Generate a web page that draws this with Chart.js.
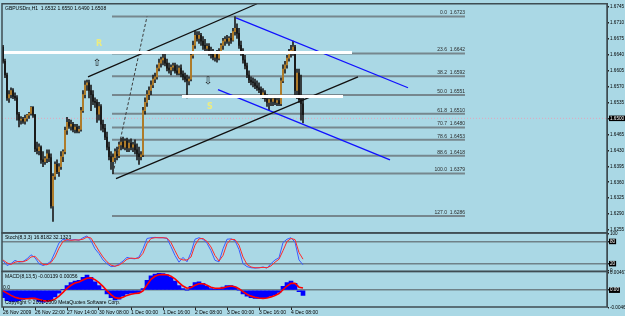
<!DOCTYPE html>
<html>
<head>
<meta charset="utf-8">
<script src="https://cdn.jsdelivr.net/npm/chart.js@4.4.0/dist/chart.umd.min.js"></script>
<style>
  html, body { margin: 0; padding: 0; background: #aad8e5; overflow: hidden; }
  canvas { display: block; background: #aad8e5; }
</style>
</head>
<body>
<canvas id="chart" width="625" height="316"></canvas>
<script>
// GBPUSDm H1, one bar per hour from 26 Nov 2009 06:00
const open = [1.6656,1.6625,1.6595,1.6545,1.6552,1.6561,1.6548,1.6545,1.6509,1.6496,
  1.6498,1.6494,1.6500,1.6507,1.6511,1.6524,1.6507,1.6433,1.6429,1.6437,
  1.6409,1.6405,1.6412,1.6422,1.6414,1.6308,1.6373,1.6399,1.6383,1.6394,
  1.6416,1.6427,1.6474,1.6491,1.6483,1.6487,1.6476,1.6481,1.6472,1.6476,
  1.6517,1.6552,1.6573,1.6578,1.6561,1.6552,1.6537,1.6535,1.6509,1.6526,
  1.6487,1.6478,1.6459,1.6437,1.6416,1.6405,1.6414,1.6427,1.6418,1.6442,
  1.6448,1.6437,1.6450,1.6435,1.6446,1.6437,1.6442,1.6431,1.6422,1.6416,
  1.6420,1.6517,1.6535,1.6552,1.6561,1.6573,1.6586,1.6591,1.6610,1.6621,
  1.6628,1.6632,1.6621,1.6610,1.6606,1.6612,1.6615,1.6604,1.6599,1.6610,
  1.6597,1.6591,1.6586,1.6582,1.6586,1.6638,1.6660,1.6682,1.6675,1.6682,
  1.6669,1.6660,1.6653,1.6658,1.6647,1.6640,1.6634,1.6643,1.6632,1.6647,
  1.6660,1.6669,1.6673,1.6669,1.6675,1.6671,1.6690,1.6697,1.6686,1.6660,
  1.6643,1.6628,1.6615,1.6595,1.6584,1.6580,1.6578,1.6571,1.6567,1.6563,
  1.6552,1.6556,1.6543,1.6535,1.6541,1.6537,1.6543,1.6535,1.6539,1.6532,
  1.6582,1.6608,1.6617,1.6632,1.6643,1.6649,1.6656,1.6561,1.6599,1.6541,
  1.6532];
const high = [1.6660,1.6630,1.6599,1.6561,1.6567,1.6565,1.6556,1.6550,1.6513,1.6504,
  1.6502,1.6507,1.6509,1.6513,1.6526,1.6526,1.6509,1.6448,1.6444,1.6440,
  1.6427,1.6416,1.6431,1.6431,1.6422,1.6379,1.6405,1.6409,1.6401,1.6427,
  1.6431,1.6481,1.6502,1.6498,1.6496,1.6491,1.6487,1.6487,1.6483,1.6524,
  1.6561,1.6582,1.6584,1.6584,1.6573,1.6561,1.6545,1.6541,1.6535,1.6530,
  1.6496,1.6487,1.6470,1.6448,1.6427,1.6422,1.6433,1.6437,1.6448,1.6457,
  1.6459,1.6455,1.6457,1.6453,1.6455,1.6448,1.6453,1.6444,1.6437,1.6427,
  1.6524,1.6545,1.6561,1.6569,1.6582,1.6595,1.6599,1.6617,1.6630,1.6634,
  1.6643,1.6643,1.6630,1.6621,1.6617,1.6621,1.6621,1.6617,1.6615,1.6617,
  1.6604,1.6599,1.6595,1.6591,1.6643,1.6669,1.6692,1.6690,1.6690,1.6686,
  1.6679,1.6673,1.6664,1.6664,1.6656,1.6651,1.6647,1.6649,1.6653,1.6664,
  1.6675,1.6679,1.6682,1.6679,1.6686,1.6697,1.6723,1.6707,1.6697,1.6669,
  1.6653,1.6638,1.6621,1.6604,1.6591,1.6589,1.6586,1.6582,1.6578,1.6569,
  1.6565,1.6561,1.6552,1.6548,1.6550,1.6548,1.6550,1.6545,1.6548,1.6589,
  1.6617,1.6625,1.6638,1.6651,1.6660,1.6669,1.6660,1.6608,1.6608,1.6595,
  1.6550];
const low = [1.6621,1.6589,1.6539,1.6535,1.6545,1.6543,1.6539,1.6496,1.6481,1.6487,
  1.6489,1.6487,1.6494,1.6500,1.6507,1.6502,1.6427,1.6422,1.6420,1.6401,
  1.6394,1.6399,1.6403,1.6405,1.6303,1.6274,1.6366,1.6379,1.6373,1.6388,
  1.6405,1.6422,1.6465,1.6478,1.6474,1.6470,1.6468,1.6468,1.6468,1.6472,
  1.6513,1.6545,1.6561,1.6545,1.6517,1.6530,1.6524,1.6491,1.6496,1.6474,
  1.6470,1.6453,1.6431,1.6409,1.6388,1.6379,1.6405,1.6409,1.6414,1.6431,
  1.6433,1.6431,1.6427,1.6427,1.6431,1.6427,1.6422,1.6409,1.6399,1.6409,
  1.6416,1.6509,1.6526,1.6541,1.6552,1.6567,1.6578,1.6586,1.6604,1.6612,
  1.6617,1.6615,1.6604,1.6599,1.6595,1.6604,1.6599,1.6595,1.6595,1.6591,
  1.6584,1.6580,1.6545,1.6573,1.6582,1.6632,1.6653,1.6669,1.6664,1.6660,
  1.6651,1.6647,1.6643,1.6638,1.6632,1.6628,1.6625,1.6623,1.6628,1.6643,
  1.6651,1.6660,1.6664,1.6660,1.6664,1.6669,1.6682,1.6675,1.6653,1.6638,
  1.6621,1.6608,1.6589,1.6578,1.6573,1.6569,1.6565,1.6561,1.6556,1.6545,
  1.6543,1.6537,1.6526,1.6519,1.6528,1.6528,1.6530,1.6528,1.6528,1.6528,
  1.6578,1.6599,1.6610,1.6625,1.6634,1.6638,1.6552,1.6543,1.6535,1.6496,
  1.6490];
const close = [1.6625,1.6595,1.6545,1.6552,1.6561,1.6548,1.6545,1.6509,1.6496,1.6498,
  1.6494,1.6500,1.6507,1.6511,1.6524,1.6507,1.6433,1.6429,1.6437,1.6409,
  1.6405,1.6412,1.6422,1.6414,1.6308,1.6373,1.6399,1.6383,1.6394,1.6416,
  1.6427,1.6474,1.6491,1.6483,1.6487,1.6476,1.6481,1.6472,1.6476,1.6517,
  1.6552,1.6573,1.6578,1.6561,1.6552,1.6537,1.6535,1.6509,1.6526,1.6487,
  1.6478,1.6459,1.6437,1.6416,1.6405,1.6414,1.6427,1.6418,1.6442,1.6448,
  1.6437,1.6450,1.6435,1.6446,1.6437,1.6442,1.6431,1.6422,1.6416,1.6420,
  1.6517,1.6535,1.6552,1.6561,1.6573,1.6586,1.6591,1.6610,1.6621,1.6628,
  1.6632,1.6621,1.6610,1.6606,1.6612,1.6615,1.6604,1.6599,1.6610,1.6597,
  1.6591,1.6586,1.6582,1.6586,1.6638,1.6660,1.6682,1.6675,1.6682,1.6669,
  1.6660,1.6653,1.6658,1.6647,1.6640,1.6634,1.6643,1.6632,1.6647,1.6660,
  1.6669,1.6673,1.6669,1.6675,1.6671,1.6690,1.6697,1.6686,1.6660,1.6643,
  1.6628,1.6615,1.6595,1.6584,1.6580,1.6578,1.6571,1.6567,1.6563,1.6552,
  1.6556,1.6543,1.6535,1.6541,1.6537,1.6543,1.6535,1.6539,1.6532,1.6582,
  1.6608,1.6617,1.6632,1.6643,1.6649,1.6656,1.6561,1.6599,1.6541,1.6532,
  1.6508];

// indicators read every second bar
const IND_STEP = 2;
const stochMain = [28,15,20,29,24,26,33,44,36,20, 15,19,27,51,76,86,83,84,85,83,
  90,95,82,60,47,30,20,12,13,19, 27,37,34,33,38,60,88,90,91,90,
  90,88,66,42,24,37,25,50,86,90, 86,75,55,29,25,60,86,87,82,58,
  20,12,9,8,9,11,8,20,30,36, 77,86,90,78,30,16.8182];
const stochSignal = [30,22,18,24,26,25,29,38,40,28, 18,17,23,38,62,80,85,83,84,84,
  86,92,89,72,54,38,25,16,13,16, 23,32,35,34,35,48,74,88,90,90,
  90,89,77,55,34,30,30,38,70,87, 88,80,65,42,27,42,74,86,85,70,
  38,18,11,9,9,10,9,14,24,32, 55,80,88,85,50,32.1323];
const macdHist = [-0.0020,-0.0028,-0.0030,-0.0030,-0.0028,-0.0025,-0.0022,-0.0020,-0.0024,-0.0030,
  -0.0032,-0.0030,-0.0026,-0.0018,-0.0008,0.0002,0.0012,0.0020,0.0024,0.0026,
  0.0034,0.0040,0.0034,0.0022,0.0012,0.0002,-0.0010,-0.0020,-0.0026,-0.0024,
  -0.0016,-0.0010,-0.0008,-0.0008,-0.0006,0.0004,0.0026,0.0038,0.0043,0.0045,
  0.0044,0.0041,0.0034,0.0024,0.0012,0.0004,0.0000,0.0010,0.0020,0.0022,
  0.0018,0.0010,0.0004,0.0002,0.0004,0.0008,0.0012,0.0012,0.0008,0.0000,
  -0.0010,-0.0016,-0.0020,-0.0022,-0.0022,-0.0022,-0.0020,-0.0016,-0.0012,-0.0006,
  0.0010,0.0020,0.0024,0.0018,-0.0004,-0.00139];
const macdSignal = [-0.0002,-0.0008,-0.0014,-0.0019,-0.0022,-0.0023,-0.0023,-0.0022,-0.0022,-0.0025,
  -0.0028,-0.0029,-0.0028,-0.0024,-0.0016,-0.0006,0.0005,0.0013,0.0019,0.0022,
  0.0027,0.0032,0.0033,0.0028,0.0020,0.0010,-0.0002,-0.0012,-0.0020,-0.0022,
  -0.0019,-0.0014,-0.0011,-0.0009,-0.0008,-0.0002,0.0014,0.0029,0.0037,0.0041,
  0.0042,0.0041,0.0037,0.0030,0.0020,0.0011,0.0005,0.0007,0.0013,0.0017,
  0.0017,0.0013,0.0008,0.0005,0.0005,0.0006,0.0009,0.0011,0.0009,0.0004,
  -0.0004,-0.0011,-0.0016,-0.0019,-0.0021,-0.0022,-0.0021,-0.0018,-0.0014,-0.0009,
  0.0001,0.0011,0.0018,0.0018,0.0008,0.00056];

// axis labels
const priceTicks = [1.6745,1.6710,1.6675,1.6640,1.6605,1.6570,1.6535,1.6500,1.6465,1.6430,1.6395,1.6360,1.6325,1.6290,1.6255];
const stochTicks = [100, 80, 20, 0];
const macdTicks = [0.00467, 0, -0.00462];
const timeBars = [0, 16, 32, 48, 64, 80, 96, 112, 128, 144];
const timeLabels = ['26 Nov 2009','26 Nov 22:00','27 Nov 14:00','30 Nov 08:00','1 Dec 00:00',
  '1 Dec 16:00','2 Dec 08:00','3 Dec 00:00','3 Dec 16:00','4 Dec 08:00'];
const bidPrice = 1.6500;

// fibonacci retracement (bar range, levels)
const fibLevels = ['0.0','23.6','38.2','50.0','61.8','70.7','78.6','88.6','100.0','127.0'];
const fibPrices = [1.6723,1.6642,1.6592,1.6551,1.6510,1.6480,1.6453,1.6418,1.6379,1.6286];
const fibBars = [54.5, 231];

// drawn objects: [bar, price] pairs
const upperChannel = [[42.5, 1.6591], [127, 1.6751]];
const lowerChannel = [[56.5, 1.6368], [177.5, 1.6591]];
const upperBlue = [[116.5, 1.6720], [202.5, 1.6567]];
const lowerBlue = [[107.5, 1.6563], [193.5, 1.6409]];
const fibTrend = [[55, 1.6379], [72, 1.6723]];
const resistance = [[0.5, 1.6644], [174.5, 1.6644]];
const support = [[89.5, 1.6548], [170, 1.6548]];
const textMarks = [['R', 48, 1.6664], ['S', 103.5, 1.6526]];
const arrowMarks = [['\u21E7', 47, 1.6621], ['\u21E9', 102.5, 1.6582]];

const FONT = 'Liberation Sans';
const last = close.length - 1;

const pts = arr => arr.map(p => ({x: p[0], y: p[1]}));
const segment = (arr, color, width, dash) => ({
  type: 'line', yAxisID: 'yMain', data: pts(arr), borderColor: color,
  borderWidth: width, borderDash: dash || [], pointRadius: 0, order: 0
});

const datasets = [
  {
    type: 'bar', yAxisID: 'yMain', grouped: false, order: 4,
    data: high.map((h, i) => ({x: i, y: [low[i], h]})),
    backgroundColor: '#1e1e1e', barThickness: 1
  },
  {
    type: 'bar', yAxisID: 'yMain', grouped: false, order: 3, minBarLength: 1,
    data: close.map((c, i) => ({x: i, y: [open[i], c]})),
    backgroundColor: close.map((c, i) => c >= open[i] ? '#c88a28' : '#151515'),
    barThickness: 1
  },
  segment(resistance, '#ffffff', 3),
  segment(support, '#ffffff', 3),
  segment(fibTrend, '#3c3c3c', 1, [3, 2]),
  segment(upperChannel, '#111111', 1.3),
  segment(lowerChannel, '#111111', 1.3),
  segment(upperBlue, '#1010ff', 1.3),
  segment(lowerBlue, '#1010ff', 1.3),
  {
    type: 'line', yAxisID: 'yStoch', order: 1,
    data: stochMain.map((v, i) => ({x: i * IND_STEP, y: v})),
    borderColor: '#3d5cff', borderWidth: 1, pointRadius: 0
  },
  {
    type: 'line', yAxisID: 'yStoch', order: 0,
    data: stochSignal.map((v, i) => ({x: i * IND_STEP, y: v})),
    borderColor: '#ff2a2a', borderWidth: 1, pointRadius: 0
  },
  {
    type: 'bar', yAxisID: 'yMacd', grouped: false, order: 5,
    data: macdHist.map((v, i) => ({x: i * IND_STEP, y: v})),
    backgroundColor: '#0000ff', barThickness: 4
  },
  {
    type: 'line', yAxisID: 'yMacd', order: 0,
    data: macdSignal.map((v, i) => ({x: i * IND_STEP, y: v})),
    borderColor: '#ff0000', borderWidth: 1.6, pointRadius: 0
  }
];

const tickFont = {size: 4.6, family: FONT};
const yAxis = (weight, stackWeight, min, max, ticks, fmt, boxed, levels) => ({
  type: 'linear', position: 'right', stack: 'panes', stackWeight, weight,
  min, max, beginAtZero: false,
  afterFit: s => { s.width = 18; },
  afterBuildTicks: s => { s.ticks = ticks.map(v => ({value: v})); },
  border: {display: true, color: '#39474d', width: 1},
  grid: {
    drawOnChartArea: true, tickLength: 2, tickColor: '#222',
    color: c => levels.includes(c.tick && c.tick.value) ? '#6f8188' : 'rgba(0,0,0,0)',
    lineWidth: 1.5
  },
  ticks: {
    autoSkip: false, padding: 1, font: tickFont,
    color: c => boxed.includes(c.tick.value) ? '#ffffff' : '#000000',
    showLabelBackdrop: c => boxed.includes(c.tick.value),
    backdropColor: '#000000', backdropPadding: {top: 0, bottom: 0, left: 1, right: 1},
    callback: fmt
  }
});

const overlay = {
  id: 'overlay',
  beforeDatasetsDraw(chart) {
    const {ctx, chartArea: a, scales} = chart;
    const x = scales.x, y = scales.yMain;
    ctx.save();
    // bid line
    ctx.strokeStyle = '#e2a6bd';
    ctx.lineWidth = 1;
    ctx.setLineDash([1, 2]);
    const by = y.getPixelForValue(bidPrice);
    ctx.beginPath(); ctx.moveTo(a.left, by); ctx.lineTo(a.right, by); ctx.stroke();
    ctx.setLineDash([]);
    // fibo levels
    const x0 = x.getPixelForValue(fibBars[0]), x1 = x.getPixelForValue(fibBars[1]);
    ctx.font = '5px "' + FONT + '"';
    ctx.textAlign = 'right';
    ctx.textBaseline = 'bottom';
    fibPrices.forEach((p, i) => {
      const py = y.getPixelForValue(p);
      ctx.strokeStyle = '#76878e';
      ctx.lineWidth = 2;
      ctx.beginPath(); ctx.moveTo(x0, py); ctx.lineTo(x1, py); ctx.stroke();
      ctx.fillStyle = '#2a2a2a';
      ctx.fillText(fibLevels[i] + '  ' + p.toFixed(4), x1, py - 1);
    });
    ctx.restore();
  },
  afterDatasetsDraw(chart) {
    const {ctx, scales} = chart;
    const x = scales.x, y = scales.yMain;
    ctx.save();
    ctx.textAlign = 'center';
    ctx.textBaseline = 'middle';
    ctx.font = 'bold 8px "DejaVu Sans"';
    ctx.fillStyle = '#ecec80';
    textMarks.forEach(m => ctx.fillText(m[0], x.getPixelForValue(m[1]), y.getPixelForValue(m[2])));
    ctx.font = '10px "DejaVu Sans"';
    ctx.fillStyle = '#111';
    arrowMarks.forEach(m => ctx.fillText(m[0], x.getPixelForValue(m[1]), y.getPixelForValue(m[2])));
    ctx.restore();
  },
  afterDraw(chart) {
    const {ctx, chartArea: a, scales} = chart;
    ctx.save();
    // pane frames
    ctx.strokeStyle = '#3f4d53';
    ctx.lineWidth = 1.5;
    ['yMain', 'yStoch', 'yMacd'].forEach(id => {
      const s = scales[id];
      ctx.strokeRect(a.left, s.top, a.right - a.left, s.bottom - s.top);
    });
    ctx.font = '5px "' + FONT + '"';
    ctx.fillStyle = '#000';
    ctx.textAlign = 'left';
    ctx.textBaseline = 'middle';
    const f4 = v => v.toFixed(4);
    ctx.fillText('GBPUSDm,H1  ' + [open[last], high[last], low[last], close[last]].map(f4).join(' '),
      a.left + 3, scales.yMain.top + 5);
    ctx.fillText('Stoch(8,3,3) ' + stochMain[stochMain.length - 1].toFixed(4) + ' ' +
      stochSignal[stochSignal.length - 1].toFixed(4), a.left + 3, scales.yStoch.top + 5);
    ctx.fillText('MACD(8,13,5) ' + macdHist[macdHist.length - 1].toFixed(5) + ' ' +
      macdSignal[macdSignal.length - 1].toFixed(5), a.left + 3, scales.yMacd.top + 5);
    ctx.fillText('0.0', a.left + 1, scales.yMacd.getPixelForValue(0) - 3);
    ctx.fillText('Copyright \u00A9 2001-2009 MetaQuotes Software Corp.', a.left + 3, scales.yMacd.bottom - 4);
    ctx.restore();
  }
};

new Chart(document.getElementById('chart'), {
  type: 'bar',
  data: {datasets},
  options: {
    responsive: false,
    animation: false,
    events: [],
    layout: {padding: {left: 2, right: 0, top: 0, bottom: 0}},
    plugins: {legend: {display: false}, tooltip: {enabled: false}},
    scales: {
      x: {
        type: 'linear', position: 'bottom', min: -0.5, max: 302, offset: false,
        afterFit: s => { s.height = 9; },
        afterBuildTicks: s => { s.ticks = timeBars.map(v => ({value: v})); },
        border: {display: false},
        grid: {drawOnChartArea: false, offset: false, tickLength: 3, tickColor: '#222'},
        ticks: {
          autoSkip: false, maxRotation: 0, align: 'start', padding: 0, font: {size: 5, family: FONT}, color: '#000',
          callback: v => timeLabels[timeBars.indexOf(v)] || ''
        }
      },
      yMain: yAxis(1, 232, 1.6249, 1.6751, priceTicks, v => v.toFixed(4), [bidPrice], []),
      yStoch: yAxis(2, 39, -1, 103, stochTicks, v => String(v), [80, 20], [80, 20]),
      yMacd: yAxis(3, 36, -0.0045, 0.0050, macdTicks, v => v === 0 ? '0.00' : v.toFixed(5), [0], [0])
    }
  },
  plugins: [overlay]
});
</script>
</body>
</html>
